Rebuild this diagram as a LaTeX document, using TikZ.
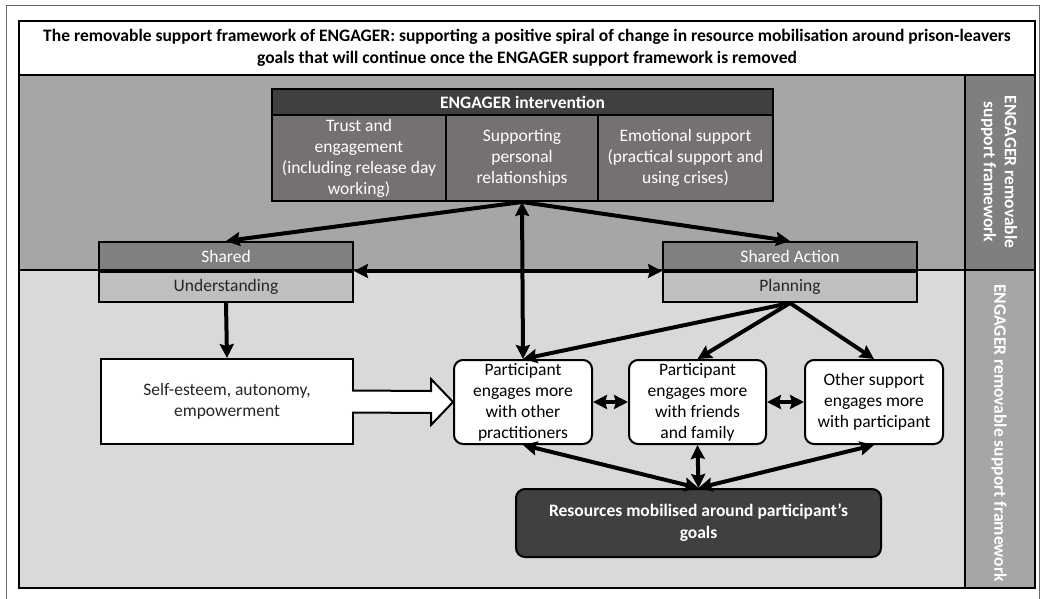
\documentclass[tikz,border=0pt]{standalone}
\usepackage{fontspec}
\setmainfont{Carlito}
\usetikzlibrary{arrows.meta,calc}
\definecolor{bandtop}{HTML}{A6A6A6}
\definecolor{bandlow}{HTML}{D9D9D9}
\definecolor{coltop}{HTML}{7F7F7F}
\definecolor{darkbox}{HTML}{404040}
\definecolor{subbox}{HTML}{767171}
\definecolor{sharedtop}{HTML}{808080}
\definecolor{sharedlow}{HTML}{BFBFBF}
\definecolor{txt}{HTML}{262626}

\begin{document}
\begin{tikzpicture}[x=1pt,y=-1pt,
  every node/.style={font=\fontsize{17.5}{21}\selectfont,align=center,inner sep=0pt,text=txt},
  boldtext/.style={font=\fontsize{17.5}{22}\selectfont\bfseries},
  frame/.style={draw=black,line width=2pt},
  subpanel/.style={frame,fill=subbox,text=white,minimum height=86pt},
  halfbox/.style={frame,minimum width=254pt},
  rbox/.style={frame,fill=white,rounded corners=9pt,minimum width=138pt,minimum height=84pt,text=black},
  tip/.style={-{Stealth[length=14pt,width=14pt,inset=2pt]}},
  arr/.style={line width=4pt,tip},
  darr/.style={line width=4pt,{Stealth[length=14pt,width=14pt,inset=2pt]}-{Stealth[length=14pt,width=14pt,inset=2pt]}}]
      \useasboundingbox (0,0) rectangle (1043,599);
      \draw[black!60,line width=1pt] (6,604) -- (6,6) -- (1039,6) -- (1039,604);
      \draw[frame,fill=bandtop] (19,75) rectangle (965,270);
      \draw[frame,fill=bandlow] (19,270) rectangle (965,588);
      \draw[frame,fill=coltop] (965,75) rectangle (1035,270);
      \draw[frame,fill=bandtop] (965,270) rectangle (1035,588);
      \node[frame,fill=white,minimum width=1016pt,minimum height=54pt,text=black,boldtext] (title) at (527,48)
        {The removable support framework of ENGAGER: supporting a positive spiral of change in resource mobilisation around prison-leavers\\goals that will continue once the ENGAGER support framework is removed};
      \node[rotate=-90,text=white,boldtext,font=\fontsize{17.5}{21}\selectfont\bfseries] (coltext) at (999,172) {ENGAGER removable\\support framework};
      \node[rotate=-90,text=white,boldtext] (lowtext) at (999,433) {ENGAGER removable support framework};

      \node[frame,fill=darkbox,text=white,boldtext,minimum width=501pt,minimum height=26pt] (head) at (522.5,102) {ENGAGER intervention};
      \node[subpanel,minimum width=174pt] (trust) at (359,158) {Trust and\\engagement\\(including release day\\working)};
      \node[subpanel,minimum width=152pt] (supp) at (522,158) {Supporting\\personal\\relationships};
      \node[subpanel,minimum width=175pt] (emo) at (685.5,158) {Emotional support\\(practical support and\\using crises)};

      \node[halfbox,fill=sharedtop,text=white,minimum height=28pt] (shared) at (226,256) {Shared};
      \node[halfbox,fill=sharedlow,minimum height=30pt,anchor=north] (und) at (shared.south) {Understanding};
      \node[halfbox,fill=sharedtop,text=white,minimum height=28pt] (action) at (790,256) {Shared Action};
      \node[halfbox,fill=sharedlow,minimum height=30pt,anchor=north] (plan) at (action.south) {Planning};

      \node[frame,fill=white,minimum width=252pt,minimum height=85pt] (self) at (227,401.5) {Self-esteem, autonomy,\\empowerment};
      \node[rbox] (p1) at (523,402) {Participant\\engages more\\with other\\practitioners};
      \node[rbox,minimum width=137pt] (p2) at (697.5,402) {Participant\\engages more\\with friends\\and family};
      \node[rbox] (p3) at (874,402) {Other support\\engages more\\with participant};
      \node[frame,fill=darkbox,rounded corners=9pt,minimum width=365pt,minimum height=68pt,text=white,boldtext] (res) at (698.5,523) {Resources mobilised around participant’s\\goals};

      \draw[frame,fill=white] ($(self.east)+(-2,-11)$) -- ($(p1.west)+(-22,-11)$) -- ($(p1.west)+(-22,-23)$) -- (p1.west) -- ($(p1.west)+(-22,23)$) -- ($(p1.west)+(-22,11)$) -- ($(self.east)+(-2,11)$);

      \draw[arr] (supp.south) -- (shared.north);
      \draw[arr] (supp.south) -- (action.north);
      \draw[darr] (supp.south) -- (p1.north);
      \draw[darr] (shared.south east) -- (action.south west);
      \draw[arr] (und.south) -- (self.north);
      \draw[arr] (plan.south) -- (p1.north);
      \draw[arr] (plan.south) -- (p2.north);
      \draw[arr] (plan.south) -- (p3.north);
      \draw[darr] (p1.east) -- (p2.west);
      \draw[darr] (p2.east) -- (p3.west);
      \draw[darr] (p1.south) -- (res.north);
      \draw[darr] (p2.south) -- (res.north);
      \draw[darr] (p3.south) -- (res.north);
\end{tikzpicture}
\end{document}
